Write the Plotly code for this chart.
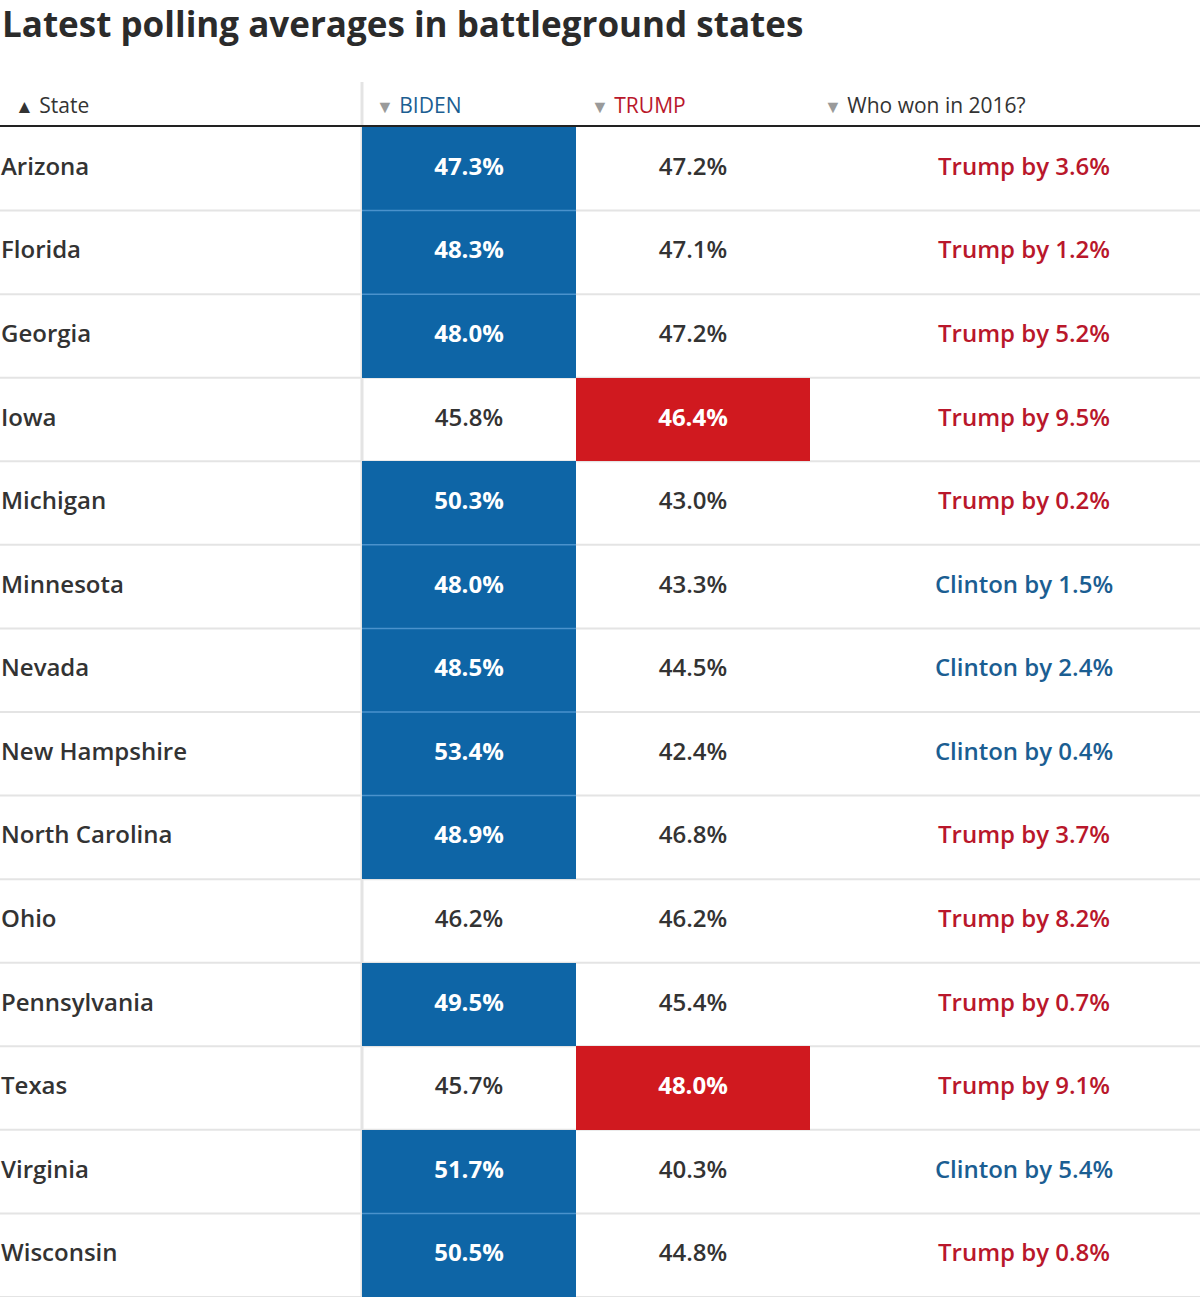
import plotly.graph_objects as go

# ---------------- data ----------------
states = ["Arizona", "Florida", "Georgia", "Iowa", "Michigan", "Minnesota", "Nevada",
          "New Hampshire", "North Carolina", "Ohio", "Pennsylvania", "Texas",
          "Virginia", "Wisconsin"]
biden = [47.3, 48.3, 48.0, 45.8, 50.3, 48.0, 48.5, 53.4, 48.9, 46.2, 49.5, 45.7, 51.7, 50.5]
trump = [47.2, 47.1, 47.2, 46.4, 43.0, 43.3, 44.5, 42.4, 46.8, 46.2, 45.4, 48.0, 40.3, 44.8]
winner_2016 = ["Trump", "Trump", "Trump", "Trump", "Trump", "Clinton", "Clinton",
               "Clinton", "Trump", "Trump", "Trump", "Trump", "Clinton", "Trump"]
margin_2016 = [3.6, 1.2, 5.2, 9.5, 0.2, 1.5, 2.4, 0.4, 3.7, 8.2, 0.7, 9.1, 5.4, 0.8]
headers = ["State", "BIDEN", "TRUMP", "Who won in 2016?"]
title = "Latest polling averages in battleground states"

# ---------------- styling ----------------
W, H = 1200, 1305
TOP, BOT = 127, 8
BLUE = "#0e65a6"
RED = "#d0191f"
DARK = "#333333"
TRUMP_TXT = "#b9172b"
CLINTON_TXT = "#1b5e92"
GRID = "#e4e4e4"
FONT = "Open Sans"
edges = [0, 362, 576, 810, 1200]
centers = [(edges[i] + edges[i + 1]) / 2 for i in range(4)]
who_x = edges[3] + 214

n = len(states)
rows = list(range(n))
plot_h = H - TOP - BOT


def py(px_from_top):
    """convert pixel y (from top of page) to paper coords"""
    return (H - BOT - px_from_top) / plot_h


# cell fill values: None = no fill, 1 = blue leader, 2 = red leader
z = []
for b, t in zip(biden, trump):
    z.append([None,
              1 if b > t else None,
              2 if t > b else None,
              None])

fig = go.Figure()
fig.add_trace(go.Heatmap(
    x=edges, y=rows, z=z, zmin=1, zmax=2,
    colorscale=[[0, BLUE], [0.5, BLUE], [0.5, RED], [1, RED]],
    showscale=False, hoverinfo="skip", xgap=0, ygap=0,
))

# State names
fig.add_trace(go.Scatter(
    x=[edges[0] + 1] * n, y=rows, mode="text", text=states,
    textposition="middle right",
    textfont=dict(family=FONT, size=24, color=DARK, weight=600),
    hoverinfo="skip", showlegend=False,
))
# Biden values
fig.add_trace(go.Scatter(
    x=[centers[1]] * n, y=rows, mode="text",
    text=[f"{v:.1f}%" for v in biden], textposition="middle center",
    textfont=dict(family=FONT, size=24,
                  color=["white" if b > t else DARK for b, t in zip(biden, trump)],
                  weight=[700 if b > t else 600 for b, t in zip(biden, trump)]),
    hoverinfo="skip", showlegend=False,
))
# Trump values
fig.add_trace(go.Scatter(
    x=[centers[2]] * n, y=rows, mode="text",
    text=[f"{v:.1f}%" for v in trump], textposition="middle center",
    textfont=dict(family=FONT, size=24,
                  color=["white" if t > b else DARK for b, t in zip(biden, trump)],
                  weight=[700 if t > b else 600 for b, t in zip(biden, trump)]),
    hoverinfo="skip", showlegend=False,
))
# Who won in 2016
fig.add_trace(go.Scatter(
    x=[who_x] * n, y=rows, mode="text",
    text=[f"{w} by {m:.1f}%" for w, m in zip(winner_2016, margin_2016)],
    textposition="middle center",
    textfont=dict(family=FONT, size=24,
                  color=[TRUMP_TXT if w == "Trump" else CLINTON_TXT for w in winner_2016],
                  weight=600),
    hoverinfo="skip", showlegend=False,
))

shapes = []
# row separators (grey, under fills)
for i in rows:
    shapes.append(dict(type="line", xref="x", yref="y", x0=edges[0], x1=edges[-1],
                       y0=i + 0.5, y1=i + 0.5, line=dict(color=GRID, width=2),
                       layer="below"))
# light separators inside consecutive coloured cells
for i in rows[:-1]:
    for col, arr_a, arr_b in ((1, biden, trump), (2, trump, biden)):
        if arr_a[i] > arr_b[i] and arr_a[i + 1] > arr_b[i + 1]:
            shapes.append(dict(type="line", xref="x", yref="y",
                               x0=edges[col], x1=edges[col + 1],
                               y0=i + 0.5, y1=i + 0.5,
                               line=dict(color="#4a92cc" if col == 1 else "#e05a5f", width=1.5),
                               layer="above"))
# vertical grey line left of Biden column
shapes.append(dict(type="line", xref="x", yref="y", x0=edges[1], x1=edges[1],
                   y0=-0.5, y1=n - 0.5, line=dict(color=GRID, width=3), layer="below"))
shapes.append(dict(type="line", xref="x", yref="paper", x0=edges[1], x1=edges[1],
                   y0=py(126), y1=py(82), line=dict(color=GRID, width=3)))
# header rule
shapes.append(dict(type="line", xref="paper", yref="paper", x0=0, x1=1,
                   y0=py(126), y1=py(126), line=dict(color="#222222", width=2)))

tri = '<span style="color:#9a9a9a;font-size:18px">▼</span> '
header_text = [
    '<span style="font-size:19px">▲</span> ' + headers[0],
    tri + f'<span style="color:{CLINTON_TXT}">{headers[1]}</span>',
    tri + f'<span style="color:{TRUMP_TXT}">{headers[2]}</span>',
    tri + headers[3],
]
header_x = [13, 374, 589, 822]
annotations = [dict(
    text=f"<b>{title}</b>", xref="paper", yref="paper", x=0, y=py(23),
    xanchor="left", yanchor="middle", showarrow=False,
    font=dict(family=FONT, size=35, color="#2b2b2b"),
)]
for hx, ht in zip(header_x, header_text):
    annotations.append(dict(
        text=ht, xref="x", yref="paper", x=hx, y=py(105),
        xanchor="left", yanchor="middle", showarrow=False,
        font=dict(family=FONT, size=21, color=DARK),
    ))

fig.update_layout(
    width=W, height=H,
    margin=dict(l=0, r=0, t=TOP, b=BOT, pad=0),
    paper_bgcolor="white", plot_bgcolor="white",
    xaxis=dict(range=[edges[0], edges[-1]], visible=False, fixedrange=True),
    yaxis=dict(range=[n - 0.5, -0.5], visible=False, fixedrange=True),
    shapes=shapes, annotations=annotations, showlegend=False,
)

fig.write_html("out.html",
               config={"displayModeBar": False},
               post_script="document.body.style.margin='0';document.body.style.padding='0';")
